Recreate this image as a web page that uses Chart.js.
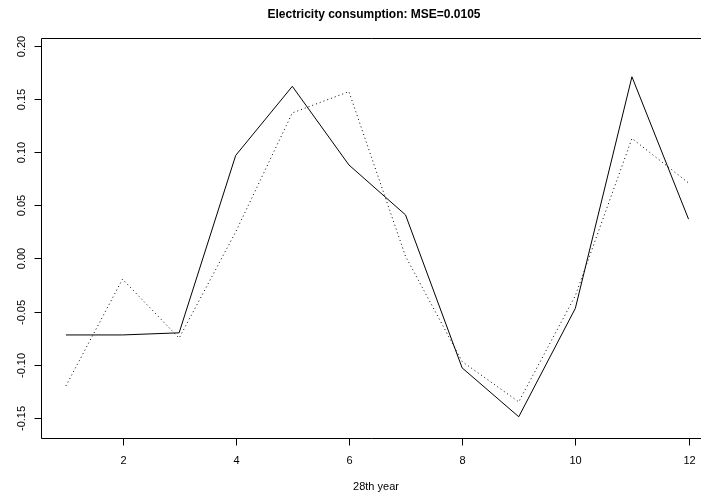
<!DOCTYPE html>
<html>
<head>
<meta charset="utf-8">
<script src="https://cdn.jsdelivr.net/npm/chart.js@4/dist/chart.umd.min.js"></script>
<style>
  body { margin: 0; background: #fff; }
  #chart { display: block; }
</style>
</head>
<body>
<canvas id="chart" width="701" height="494"></canvas>
<script>
// ===== DATA =====
const months = [1, 2, 3, 4, 5, 6, 7, 8, 9, 10, 11, 12];
const actual = [-0.072, -0.072, -0.070, 0.097, 0.162, 0.088, 0.041, -0.103, -0.149, -0.047, 0.171, 0.037];
const predicted = [-0.120, -0.0195, -0.075, 0.025, 0.137, 0.157, 0.002, -0.097, -0.135, -0.035, 0.113, 0.071];
const xTicks = [2, 4, 6, 8, 10, 12];
const yTicks = [-0.15, -0.10, -0.05, 0.00, 0.05, 0.10, 0.15, 0.20];
const titleText = 'Electricity consumption: MSE=0.0105';
const xTitle = '28th year';

const FONT = '"Liberation Sans", Arial, Helvetica, sans-serif';

// R-style axes, box and titles drawn from the chart's own scales
const rAxes = {
    id: 'rAxes',
    afterDraw(chart) {
        const ctx = chart.ctx;
        const area = chart.chartArea;
        const xs = chart.scales.x;
        const ys = chart.scales.y;
        ctx.save();
        ctx.strokeStyle = '#000';
        ctx.fillStyle = '#000';
        ctx.lineWidth = 1;

        const left = Math.round(area.left) + 0.5;
        const top = Math.round(area.top) + 0.5;
        const bottom = Math.round(area.bottom) + 0.5;

        // box (right side falls outside the picture)
        ctx.beginPath();
        ctx.moveTo(chart.width, top);
        ctx.lineTo(left, top);
        ctx.lineTo(left, bottom);
        ctx.lineTo(chart.width, bottom);
        ctx.stroke();

        // x ticks
        ctx.font = '11px ' + FONT;
        ctx.textAlign = 'center';
        ctx.textBaseline = 'middle';
        xTicks.forEach(v => {
            const px = Math.round(xs.getPixelForValue(v)) + 0.5;
            ctx.beginPath();
            ctx.moveTo(px, bottom);
            ctx.lineTo(px, bottom + 7);
            ctx.stroke();
            ctx.fillText(String(v), px, bottom + 22);
        });

        // y ticks, labels rotated like R
        yTicks.forEach(v => {
            const py = Math.round(ys.getPixelForValue(v)) + 0.5;
            ctx.beginPath();
            ctx.moveTo(left, py);
            ctx.lineTo(left - 7, py);
            ctx.stroke();
            ctx.save();
            ctx.translate(left - 20, py);
            ctx.rotate(-Math.PI / 2);
            ctx.fillText(v.toFixed(2), 0, 0);
            ctx.restore();
        });

        // titles
        ctx.font = 'bold 12px ' + FONT;
        ctx.fillText(titleText, 374, 15);
        ctx.font = '11px ' + FONT;
        ctx.fillText(xTitle, 376, 487);
        ctx.restore();
    }
};

new Chart(document.getElementById('chart'), {
    type: 'line',
    data: {
        labels: months,
        datasets: [
            {
                label: 'actual',
                data: months.map((m, i) => ({ x: m, y: actual[i] })),
                borderColor: '#000',
                borderWidth: 1,
                pointRadius: 0,
                tension: 0,
                fill: false
            },
            {
                label: 'predicted',
                data: months.map((m, i) => ({ x: m, y: predicted[i] })),
                borderColor: '#000',
                borderWidth: 1,
                borderDash: [1, 3],
                pointRadius: 0,
                tension: 0,
                fill: false
            }
        ]
    },
    options: {
        responsive: false,
        animation: false,
        layout: {
            padding: { left: 41, top: 38, right: 0, bottom: 56 }
        },
        plugins: {
            legend: { display: false },
            title: { display: false },
            tooltip: { enabled: false }
        },
        scales: {
            x: {
                type: 'linear',
                display: false,
                min: 0.56,
                max: 12.22
            },
            y: {
                type: 'linear',
                display: false,
                min: -0.169,
                max: 0.2075
            }
        }
    },
    plugins: [rAxes]
});
</script>
</body>
</html>
